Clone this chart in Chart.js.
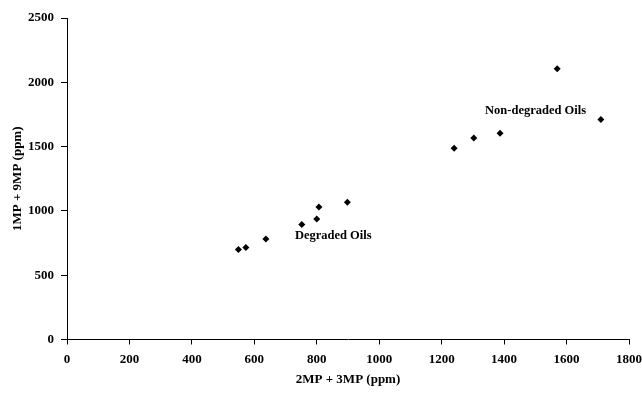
<!DOCTYPE html>
<html lang="en">
<head>
  <meta charset="UTF-8" />
  <title>1MP + 9MP vs 2MP + 3MP</title>
  <script src="https://cdn.jsdelivr.net/npm/chart.js"></script>
  <style>
    html, body { margin: 0; padding: 0; background: #fff; }
    #wrap { width: 642px; height: 393px; position: relative; }
  </style>
</head>
<body>
  <div id="wrap"><canvas id="chart"></canvas></div>

  <script>
    // values (ppm)
    const xValues = [549, 573, 637, 752, 800, 807, 898, 1240, 1303, 1387, 1570, 1710];
    const yValues = [700, 716, 782, 894, 937, 1030, 1067, 1488, 1566, 1604, 2105, 1710];

    const groupNames = ["Degraded Oils", "Non-degraded Oils"];
    const groupLabelX = [730, 1339];
    const groupLabelY = [803, 1780];

    const xTitle = "2MP + 3MP (ppm)";
    const yTitle = "1MP + 9MP (ppm)";

    const serif = "'Liberation Serif', 'Times New Roman', serif";

    // writes the two group names at data positions
    const groupText = {
      id: "groupText",
      afterDatasetsDraw(chart) {
        const { ctx, scales } = chart;
        ctx.save();
        ctx.font = "bold 12.5px " + serif;
        ctx.fillStyle = "#000";
        ctx.textAlign = "left";
        ctx.textBaseline = "middle";
        groupNames.forEach((name, i) => {
          ctx.fillText(name, scales.x.getPixelForValue(groupLabelX[i]), scales.y.getPixelForValue(groupLabelY[i]));
        });
        ctx.restore();
      }
    };

    const points = xValues.map((x, i) => ({ x: x, y: yValues[i] }));
    const plain = v => String(v);

    new Chart(document.getElementById("chart"), {
      type: "scatter",
      data: {
        datasets: [{
          data: points,
          pointStyle: "rectRot",
          pointRadius: 3.5,
          backgroundColor: "#000",
          borderColor: "#000",
          borderWidth: 0
        }]
      },
      options: {
        responsive: true,
        maintainAspectRatio: false,
        animation: false,
        layout: { padding: { top: 18, right: 13, bottom: 0, left: 0 } },
        plugins: {
          legend: { display: false },
          tooltip: { enabled: false }
        },
        scales: {
          x: {
            type: "linear",
            min: 0,
            max: 1800,
            afterFit(scale) {
              scale.height = 53.5;
              scale.paddingLeft = 0;
              scale.paddingRight = 0;
            },
            ticks: {
              stepSize: 200,
              padding: 7,
              color: "#000",
              callback: plain,
              font: { family: serif, size: 13, weight: "bold" }
            },
            grid: { drawOnChartArea: false, tickLength: 5, color: "#000" },
            border: { color: "#000", width: 1 },
            title: {
              display: true,
              text: xTitle,
              color: "#000",
              padding: { top: 0, bottom: 6 },
              font: { family: serif, size: 13, weight: "bold" }
            }
          },
          y: {
            min: 0,
            max: 2500,
            afterFit(scale) {
              scale.width = 67;
              scale.paddingTop = 0;
              scale.paddingBottom = 0;
            },
            ticks: {
              stepSize: 500,
              padding: 7,
              color: "#000",
              callback: plain,
              font: { family: serif, size: 13, weight: "bold" }
            },
            grid: { drawOnChartArea: false, tickLength: 6, color: "#000" },
            border: { color: "#000", width: 1 },
            title: {
              display: true,
              text: yTitle,
              color: "#000",
              padding: { top: 10, bottom: 0 },
              font: { family: serif, size: 13, weight: "bold" }
            }
          }
        }
      },
      plugins: [groupText]
    });
  </script>
</body>
</html>
